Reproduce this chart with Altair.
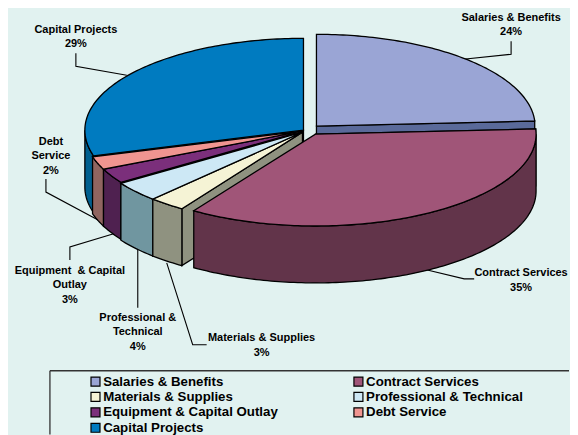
import math
import altair as alt

# --- chart values ---
categories = ["Salaries & Benefits", "Contract Services", "Materials & Supplies",
              "Professional & Technical", "Equipment & Capital Outlay", "Debt Service",
              "Capital Projects"]
shares = [24.1, 35.2, 2.7, 3.6, 2.6, 2.3, 29.5]
top_colors = ["#9AA5D5", "#A05578", "#F5F3D5", "#CDE8F5", "#7B2F7B", "#F09590", "#007BC0"]
wall_colors = ["#5A6A9A", "#62344A", "#8F9280", "#7096A0", "#4F2150", "#906560", "#005F8F"]

# label lines: text per line
label_lines = [
    ["Salaries & Benefits", "24%"],
    ["Contract Services", "35%"],
    ["Materials & Supplies", "3%"],
    ["Professional &", "Technical", "4%"],
    ["Equipment \u00a0& Capital", "Outlay", "3%"],
    ["Debt", "Service", "2%"],
    ["Capital Projects", "29%"],
]

# --- layout (page pixels) ---
OFF = 8
RY, DEPTH = 92, 57
BG = "#E1F2F0"
FONT = "Liberation Sans"
centers = [(317, 126), (316, 134), (303, 132), (303, 132), (303, 131), (303, 131), (304, 130)]
radii = [219, 221, 219, 219, 219, 219, 219]
label_pos = [
    (512, [18, 32]),
    (522, [273, 288]),
    (262, [338, 353]),
    (138, [318, 332, 347]),
    (70, [271, 285, 300]),
    (51, [142, 156, 171]),
    (76, [30, 44]),
]
leaders = [
    [(512, 41), (512, 54), (464, 59)],
    [(475, 279), (465, 279), (428, 270)],
    [(207, 345), (193, 345), (167, 263)],
    [(138, 308), (138, 250)],
    [(70, 260), (70, 247), (113, 234)],
    [(46, 179), (46, 192), (102, 222)],
    [(76, 53), (76, 66), (127, 75)],
]


def pt(c, rx, a, dy=0):
    r = math.radians(a)
    return [c[0] + rx * math.sin(r) - OFF, c[1] - RY * math.cos(r) + dy - OFF]


def arc(c, rx, a0, a1, dy=0):
    n = max(2, int(abs(a1 - a0)) + 2)
    return [pt(c, rx, a0 + (a1 - a0) * i / (n - 1), dy) for i in range(n)]


def feature(ring, props):
    return {"type": "Feature", "properties": props,
            "geometry": {"type": "Polygon", "coordinates": [ring + [ring[0]]]}}


tops, walls = [], []
start = 0.0
spans = []
for s in shares:
    spans.append((start, start + s * 3.6))
    start += s * 3.6

for i in range(7):
    c, rx = centers[i], radii[i]
    a0, a1 = spans[i]
    apex = [c[0] - OFF, c[1] - OFF]
    tops.append(feature([apex] + arc(c, rx, a0, a1), {"name": categories[i]}))

# walls, painted from the back to the front
for i in [0, 6, 5, 4, 3, 2, 1]:
    c, rx = centers[i], radii[i]
    a0, a1 = spans[i]
    apex = [c[0] - OFF, c[1] - OFF]
    # the straight side face that the viewer can see
    e = pt(c, rx, a1 if a1 < 180 else a0)
    walls.append(feature([apex, e, [e[0], e[1] + DEPTH], [apex[0], apex[1] + DEPTH]],
                         {"wall": wall_colors[i]}))
    lo, hi = max(a0, 90), min(a1, 270)
    if lo < hi:
        walls.append(feature(arc(c, rx, lo, hi) + arc(c, rx, hi, lo, DEPTH), {"wall": wall_colors[i]}))

proj = dict(type="identity", scale=1, translate=[0, 0])

wall_layer = alt.Chart(alt.Data(values=walls)).mark_geoshape(
    stroke="black", strokeWidth=1.3
).encode(fill=alt.Fill("properties.wall:N", scale=None)).project(**proj)

top_layer = alt.Chart(alt.Data(values=tops)).mark_geoshape(
    stroke="black", strokeWidth=1.3
).encode(
    fill=alt.Fill(
        "properties.name:N",
        scale=alt.Scale(domain=categories, range=top_colors),
        legend=alt.Legend(
            title=None, orient="none", legendX=81, legendY=367, columns=2,
            direction="horizontal",
            symbolType="square", symbolSize=81, symbolStrokeColor="black",
            symbolStrokeWidth=1.2, labelFont=FONT, labelFontSize=13.3,
            labelFontWeight="bold", labelColor="black", labelOffset=1,
            columnPadding=72.4, rowPadding=0.5, labelLimit=300,
        ),
    )
).project(**proj)

text_rows = []
for i, lines in enumerate(label_lines):
    x, ys = label_pos[i]
    for line, y in zip(lines, ys):
        text_rows.append({"t": line, "x": x - OFF, "y": y - OFF})

text_layer = alt.Chart(alt.Data(values=text_rows)).mark_text(
    font=FONT, fontSize=11, fontWeight="bold", color="black", align="center", baseline="middle"
).encode(
    x=alt.X("x:Q", scale=None, axis=None),
    y=alt.Y("y:Q", scale=None, axis=None),
    text="t:N",
)

leader_rows = []
for i, pts in enumerate(leaders):
    for j, (x, y) in enumerate(pts):
        leader_rows.append({"id": i, "o": j, "x": x - OFF, "y": y - OFF})

leader_layer = alt.Chart(alt.Data(values=leader_rows)).mark_line(
    color="black", strokeWidth=1.1
).encode(
    x=alt.X("x:Q", scale=None, axis=None),
    y=alt.Y("y:Q", scale=None, axis=None),
    detail="id:N",
    order="o:Q",
)

box_rows = [{"x": 42, "x2": 562, "y": 363, "y2": 363}, {"x": 42, "x2": 42, "y": 363, "y2": 427}]
box_layer = alt.Chart(alt.Data(values=box_rows)).mark_rule(color="#333333", strokeWidth=1.3).encode(
    x=alt.X("x:Q", scale=None, axis=None),
    x2="x2:Q",
    y=alt.Y("y:Q", scale=None, axis=None),
    y2="y2:Q",
)

chart = alt.layer(leader_layer, wall_layer, top_layer, text_layer, box_layer).resolve_scale(
    fill="independent"
).properties(
    width=562, height=427, background=BG, padding=0
).configure_view(stroke=None)

chart.save("out.html", embed_options={"renderer": "svg", "actions": False})
